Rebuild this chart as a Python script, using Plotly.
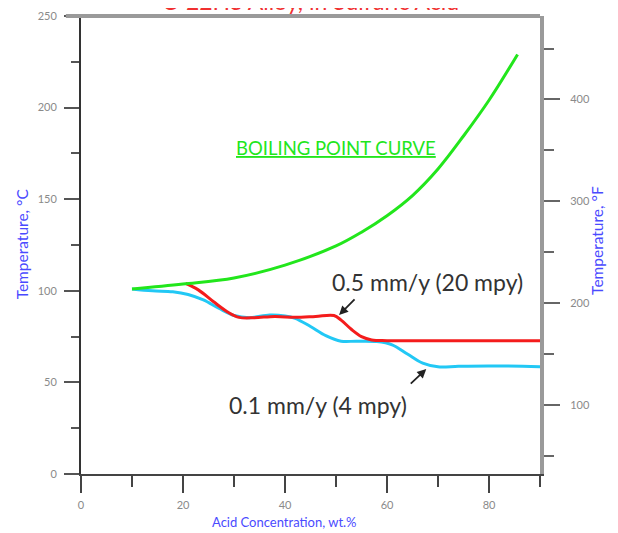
import plotly.graph_objects as go

# Boiling point curve (°C vs wt.% acid)
bp_conc = [10, 20, 30, 40, 50, 55, 60, 65, 70, 75, 80, 85.6]
bp_temp = [101, 103.7, 107, 114, 124.5, 132, 141, 152, 166.5, 184.5, 204, 229]

# 0.5 mm/y (20 mpy) iso-corrosion line
red_conc = [20.5, 23, 26, 29, 31, 34, 38, 42, 46, 49.6, 51, 53, 55, 57, 60, 70, 80, 90]
red_temp = [104, 100.5, 94, 88, 85.5, 85.3, 86, 85.5, 86, 86.5, 84, 79, 75, 73.2, 72.8, 72.8, 72.8, 72.8]

# 0.1 mm/y (4 mpy) iso-corrosion line
blue_conc = [10, 14, 18, 21, 24, 27, 30, 33, 37, 40, 42, 45, 48, 51, 54, 58, 61, 64, 67, 70, 74, 80, 90]
blue_temp = [101, 100, 99.5, 98, 95, 90.5, 86.5, 85.3, 86.8, 86.3, 85, 80.5, 75.5, 72.5, 72.5, 72.3, 70.5, 65.5, 60.5, 58.5, 58.8, 59, 58.6]

x_ticks = [0, 20, 40, 60, 80]
title_text = "C-22HS Alloy, in Sulfuric Acid"

fig = go.Figure()
fig.add_trace(go.Scatter(x=blue_conc, y=blue_temp, mode="lines",
                         line=dict(color="#22c8f5", width=3, shape="spline"),
                         hoverinfo="skip", showlegend=False))
fig.add_trace(go.Scatter(x=red_conc, y=red_temp, mode="lines",
                         line=dict(color="#f41c1c", width=3, shape="spline"),
                         hoverinfo="skip", showlegend=False))
fig.add_trace(go.Scatter(x=bp_conc, y=bp_temp, mode="lines",
                         line=dict(color="#22e61c", width=3, shape="spline"),
                         hoverinfo="skip", showlegend=False))
# Fahrenheit axis carrier (invisible)
fig.add_trace(go.Scatter(x=bp_conc, y=[t * 1.8 + 32 for t in bp_temp], yaxis="y2",
                         mode="lines", line=dict(color="rgba(0,0,0,0)", width=0),
                         hoverinfo="skip", showlegend=False))

FONT = "Lato, DejaVu Sans"
tickfont = dict(family=FONT, size=11, color="#8a8a8a")
blue = "#4a4aff"

fig.update_layout(
    width=618, height=533,
    margin=dict(l=73, r=86, t=8, b=67),
    paper_bgcolor="white", plot_bgcolor="white",
    showlegend=False,
    xaxis=dict(range=[0, 90], tickmode="array", tickvals=x_ticks,
               ticktext=[str(v) for v in x_ticks], automargin=False,
               ticks="outside", ticklen=17, tickwidth=2, tickcolor="#444",
               ticklabelstandoff=3,
               minor=dict(dtick=10, tick0=0, ticks="outside", ticklen=11, tickwidth=2, tickcolor="#444"),
               showgrid=False, zeroline=False, showline=True, linecolor="#444", linewidth=2,
               tickfont=tickfont),
    yaxis=dict(range=[0, 250], dtick=50, tick0=0, automargin=False,
               ticks="outside", ticklen=15, tickwidth=2, tickcolor="#555",
               ticklabelstandoff=5,
               minor=dict(dtick=25, tick0=0, ticks="outside", ticklen=8, tickwidth=2, tickcolor="#555"),
               showgrid=False, zeroline=False, showline=True, linecolor="#333", linewidth=2,
               tickfont=tickfont),
    yaxis2=dict(overlaying="y", side="right", range=[32, 482], dtick=100, tick0=0, automargin=False,
                ticks="outside", ticklen=16, tickwidth=2, tickcolor="#666",
                ticklabelstandoff=8,
                minor=dict(dtick=50, tick0=0, ticks="outside", ticklen=10, tickwidth=2, tickcolor="#666"),
                showgrid=False, zeroline=False, showline=True, linecolor="#9a9a9a", linewidth=4,
                tickfont=tickfont),
    shapes=[
        dict(type="line", xref="paper", yref="paper", x0=-0.033, x1=1.0, y0=1, y1=1,
             line=dict(color="#9a9a9a", width=4)),
    ],
    annotations=[
        dict(text=title_text, xref="paper", yref="paper", x=0.5, y=1.0,
             yanchor="bottom", yshift=-1, showarrow=False,
             font=dict(family=FONT, size=23, color="#f03030")),
        dict(text="Temperature, °C", xref="paper", yref="paper", x=-0.128, y=0.502,
             xanchor="center", yanchor="middle",
             textangle=-90, showarrow=False, font=dict(family=FONT, size=15.5, color=blue)),
        dict(text="Temperature, °F", xref="paper", yref="paper", x=1.124, y=0.511,
             xanchor="center", yanchor="middle",
             textangle=-90, showarrow=False, font=dict(family=FONT, size=15.5, color=blue)),
        dict(text="Acid Concentration, wt.%", xref="paper", yref="paper", x=0.444, y=-0.105,
             xanchor="center", yanchor="middle",
             showarrow=False, font=dict(family=FONT, size=13, color=blue)),
        dict(text="<u>BOILING POINT CURVE</u>", x=50, y=178, xref="x", yref="y", showarrow=False,
             font=dict(family=FONT, size=18.5, color="#22e61c")),
        dict(text="0.5 mm/y (20 mpy)", x=67.9, y=104.8, xref="x", yref="y", showarrow=False,
             font=dict(family=FONT, size=23, color="#333")),
        dict(text="0.1 mm/y (4 mpy)", x=46.5, y=37.7, xref="x", yref="y", showarrow=False,
             font=dict(family=FONT, size=23, color="#333")),
        dict(text="", x=50.6, y=86.8, xref="x", yref="y",
             showarrow=True, arrowhead=2, arrowsize=1, arrowwidth=1.8, arrowcolor="#222",
             ax=17, ay=-17, standoff=0),
        dict(text="", x=67.7, y=57.3, xref="x", yref="y",
             showarrow=True, arrowhead=2, arrowsize=1, arrowwidth=1.8, arrowcolor="#222",
             ax=-17, ay=16, standoff=0),
    ],
)

fig.write_html("out.html")
